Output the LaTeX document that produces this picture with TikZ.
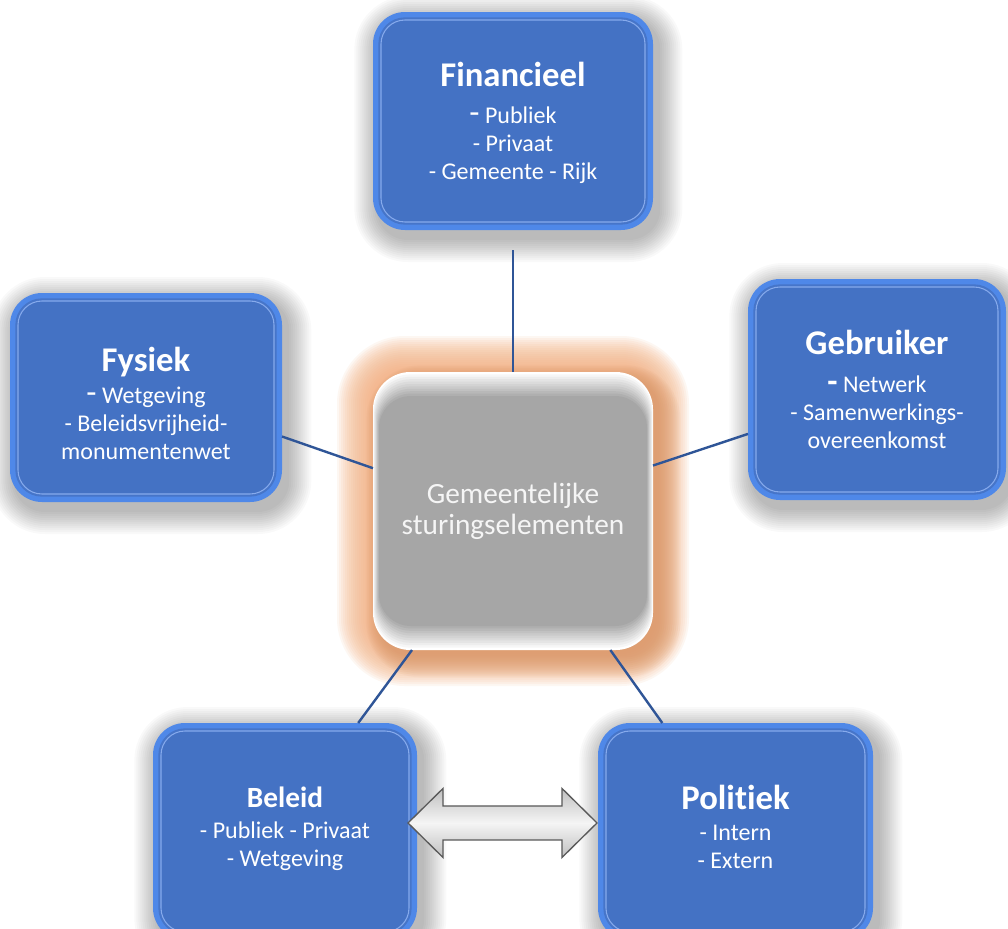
\documentclass[tikz,border=0pt]{standalone}
\usepackage{fontspec}
\setmainfont{Carlito}[Ligatures=CommonOff]
\usetikzlibrary{backgrounds,calc}
\definecolor{boxblue}{HTML}{4472C4}
\definecolor{edgeblue}{HTML}{4F88E8}
\definecolor{rimblue}{HTML}{86AAEC}
\definecolor{linkblue}{HTML}{2F5597}
\definecolor{glowc}{HTML}{F4B183}
\definecolor{glowdark}{HTML}{D39060}
\definecolor{cengray}{HTML}{A6A6A6}
\newcommand\tfont{\bfseries\fontsize{26}{30}\selectfont}
\newcommand\sfont{\fontsize{18}{21}\selectfont}
\newcommand\bigdash{{\fontsize{25}{21}\selectfont -}}
\newcommand\bluedeco[1]{%
\begin{pgfonlayer}{background}
\foreach \d in {2,4,...,24} \fill[black,opacity=0.022,rounded corners={22pt+\d*0.75pt}] ([shift={({4pt-\d*0.75pt},{-6pt+\d*0.75pt})}]#1.north west) rectangle ([shift={({4pt+\d*0.75pt},{-6pt-\d*0.75pt})}]#1.south east);
\fill[edgeblue,rounded corners=24pt] (#1.north west) rectangle (#1.south east);
\fill[boxblue!85!edgeblue,rounded corners=20pt] ([shift={(4pt,-4pt)}]#1.north west) rectangle ([shift={(-4pt,4pt)}]#1.south east);
\fill[boxblue,rounded corners=18pt,draw=rimblue,line width=0.8pt] ([shift={(6pt,-6pt)}]#1.north west) rectangle ([shift={(-6pt,6pt)}]#1.south east);
\end{pgfonlayer}}
\tikzset{
  box/.style={inner sep=0pt,outer sep=0pt},
  label text/.style={align=center,text=white,font=\sfont,inner sep=0pt},
  link/.style={draw=linkblue,line width=1.8pt},
  twoway/.style={draw=black!65,line width=1pt,top color=gray!50,bottom color=gray!50,middle color=gray!8}
}
\begin{document}
\begin{tikzpicture}[x=0.75pt,y=-0.75pt]
\useasboundingbox (0,0) rectangle (1008,929);
\clip (0,0) rectangle (1008,929);
\begin{pgfonlayer}{background}
\fill[white] (0,0) rectangle (1008,929);
\end{pgfonlayer}

% box nodes
\node[box,minimum width=210pt,minimum height=163.5pt] (fin) at (513,121) {};
\node[box,minimum width=204pt,minimum height=156.75pt] (fys) at (146,397.5) {};
\node[box,minimum width=193.5pt,minimum height=165.75pt] (geb) at (877,389.5) {};
\node[box,minimum width=198pt,minimum height=162.75pt] (bel) at (285,831.5) {};
\node[box,minimum width=206.25pt,minimum height=162.75pt] (pol) at (735.5,831.5) {};
\node[box,minimum width=210pt,minimum height=208.5pt] (cen) at (513,511) {};

% texts
\node[label text] (fint) at ([yshift=-1.5pt]fin.center)
  {{\tfont Financieel}\\[7pt]\bigdash{} Publiek\\- Privaat\\- Gemeente - Rijk};
\node[label text] (fyst) at ([yshift=-4.5pt]fys.center)
  {{\tfont Fysiek}\\[3pt]\bigdash{} Wetgeving\\- Beleidsvrijheid-\\monumentenwet};
\node[label text] (gebt) at (geb.center)
  {{\tfont Gebruiker}\\[7pt]{\bfseries\bigdash{}} Netwerk\\- Samenwerkings-\\overeenkomst};
\node[label text] (belt) at ([yshift=2.25pt]bel.center)
  {{\bfseries\fontsize{22}{24}\selectfont Beleid}\\[2pt]- Publiek - Privaat\\- Wetgeving};
\node[label text] (polt) at ([yshift=3.4pt]pol.center)
  {{\tfont Politiek}\\[2pt]- Intern\\- Extern};
\node[label text,text=gray!8,font=\fontsize{22}{23}\selectfont] (cent) at (cen.center)
  {Gemeentelijke\\sturingselementen};

% decorations
\bluedeco{fin}
\bluedeco{fys}
\bluedeco{geb}
\bluedeco{bel}
\bluedeco{pol}
\begin{pgfonlayer}{background}
\foreach \d in {2,4,...,36} \fill[glowc,opacity=0.1,rounded corners={24pt+\d*0.75pt}] ([shift={({-\d*0.75pt},{\d*0.75pt})}]cen.north west) rectangle ([shift={({\d*0.75pt},{-\d*0.75pt})}]cen.south east);
\foreach \d in {2,4,...,22} \fill[glowdark,opacity=0.07,rounded corners={24pt+\d*0.75pt}] ([shift={({6pt-\d*0.5pt},{-6pt+\d*0.5pt})}]cen.north west) rectangle ([shift={({4pt+\d*0.75pt},{-4pt-\d*0.75pt})}]cen.south east);
\fill[white,rounded corners=28pt] (cen.north west) rectangle (cen.south east);
\foreach \k in {1,...,10} \fill[cengray!\the\numexpr\k*10\relax!white,rounded corners={28pt-\k*0.4pt}] ([shift={({\k*0.45pt},{-\k*1.8pt})}]cen.north west) rectangle ([shift={({-\k*0.45pt},{\k*1.8pt})}]cen.south east);
\end{pgfonlayer}

% connectors
\draw[link,line width=2.2pt] ([yshift=-15pt]fin.south) -- (cen.north);
\draw[link] (fys.-16.6) -- (cen.163);
\draw[link] (geb.-161.4) -- (cen.18.2);
\draw[link] (bel.56.1) -- (cen.234.3);
\draw[link] (pol.124.1) -- (cen.-55.1);

% two-way arrow between Beleid and Politiek
\coordinate (al) at ([xshift=-6.75pt,yshift=6.4pt]bel.east);
\coordinate (ar) at ([xshift=-0.75pt,yshift=6.4pt]pol.west);
\path[twoway] (al) -- ($(al)+(35,-34.5)$) -- ($(al)+(35,-17)$) -- ($(ar)+(-35,-17)$) -- ($(ar)+(-35,-34.5)$)
  -- (ar) -- ($(ar)+(-35,34.5)$) -- ($(ar)+(-35,17)$) -- ($(al)+(35,17)$) -- ($(al)+(35,34.5)$) -- cycle;
\end{tikzpicture}
\end{document}
